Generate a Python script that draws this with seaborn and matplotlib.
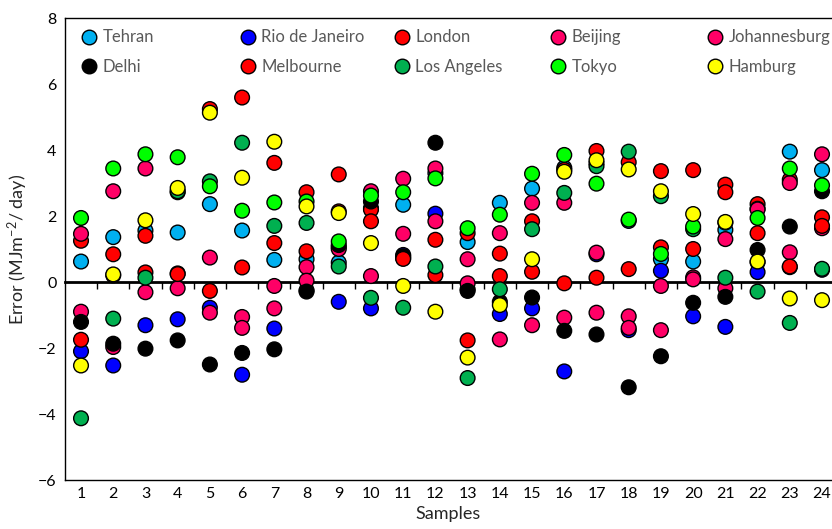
import matplotlib
matplotlib.use("Agg")
import matplotlib.pyplot as plt
from matplotlib.lines import Line2D
import seaborn as sns
import pandas as pd
import numpy as np

samples = list(range(1, 25))

tehran = [0.62, 1.36, 1.56, 1.50, 2.36, 1.56, 0.67, 0.69, 0.59, 2.24, 2.34, 3.30,
          1.21, 2.40, 2.83, 3.46, 3.60, 1.85, 0.69, 0.62, 1.58, 0.60, 3.95, 3.39]
rio = [-2.10, -2.53, -1.31, -1.13, -0.78, -2.81, -1.41, -0.25, -0.60, -0.80, 0.82, 2.07,
       -0.22, -0.97, -0.80, -2.71, 0.84, -1.46, 0.34, -1.04, -1.36, 0.30, 0.45, 0.37]
london = [1.25, 0.84, 1.40, 0.26, 5.24, 5.59, 3.61, 2.72, 3.26, 2.19, 0.72, 1.28,
          1.48, 0.86, 1.84, -0.04, 3.97, 3.63, 3.36, 3.39, 2.95, 2.36, 3.10, 1.96]
beijing = [1.46, 2.75, 3.44, 2.72, 0.74, -1.06, -0.12, 0.45, 1.06, 2.75, 1.46, 3.44,
           0.69, 1.48, 2.40, 2.40, 0.89, -1.04, -0.12, 0.14, 1.30, 2.22, 3.00, 3.87]
johannesburg = [-0.90, -1.97, -0.31, -0.19, -0.93, -1.39, -0.80, 0.04, 1.00, 0.18, 3.13, 1.84,
                -0.04, -1.74, -1.31, -1.08, -0.93, -1.39, -1.46, 0.08, -0.19, 2.20, 0.90, 1.63]
delhi = [-1.21, -1.87, -2.02, -1.77, -2.50, -2.15, -2.04, -0.29, 1.12, 2.44, 0.78, 4.22,
         -0.27, -0.60, -0.47, -1.48, -1.59, -3.19, -2.25, -0.63, -0.45, 0.97, 1.68, 2.75]
melbourne = [-1.75, 0.20, 0.29, 0.24, -0.27, 0.44, 1.18, 0.93, 2.14, 1.84, 0.70, 0.21,
             -1.77, 0.18, 0.31, 3.40, 0.13, 0.39, 1.05, 1.00, 2.72, 1.48, 0.47, 1.70]
los_angeles = [-4.13, -1.11, 0.13, 2.75, 3.05, 4.22, 1.70, 1.79, 0.47, -0.48, -0.78, 0.47,
               -2.91, -0.22, 1.60, 2.70, 3.51, 3.95, 2.60, 1.60, 0.13, -0.29, -1.24, 0.40]
tokyo = [1.94, 3.44, 3.87, 3.78, 2.90, 2.16, 2.41, 2.44, 1.23, 2.62, 2.72, 3.14,
         1.63, 2.04, 3.28, 3.85, 2.98, 1.89, 0.85, 1.68, 1.80, 1.94, 3.44, 2.93]
hamburg = [-2.53, 0.23, 1.87, 2.85, 5.13, 3.16, 4.25, 2.29, 2.09, 1.18, -0.12, -0.90,
           -2.29, -0.70, 0.69, 3.34, 3.69, 3.41, 2.75, 2.06, 1.82, 0.62, -0.50, -0.55]

cities = ["Tehran", "Rio de Janeiro", "London", "Beijing", "Johannesburg",
          "Delhi", "Melbourne", "Los Angeles", "Tokyo", "Hamburg"]
series = [tehran, rio, london, beijing, johannesburg,
          delhi, melbourne, los_angeles, tokyo, hamburg]
colors = ["#00B0F0", "#0000FF", "#FF0000", "#FF0066", "#FF0066",
          "#000000", "#FF0000", "#00B050", "#00FF00", "#FFFF00"]

df = pd.DataFrame({
    "Sample": np.tile(samples, len(cities)),
    "Error": np.concatenate(series),
    "City": np.repeat(cities, len(samples)),
})

sns.set_theme(style="white")
plt.rcParams["font.family"] = ["Lato", "DejaVu Sans"]
plt.rcParams["mathtext.default"] = "regular"

W, H = 832, 529
fig = plt.figure(figsize=(W / 100, H / 100), dpi=100)
ax_l, ax_r, ax_t, ax_b = 65, 832, 18, 480
ax = fig.add_axes([ax_l / W, 1 - ax_b / H, (ax_r - ax_l) / W, (ax_b - ax_t) / H])

palette = dict(zip(cities, colors))
sns.scatterplot(data=df, x="Sample", y="Error", hue="City", hue_order=cities,
                palette=palette, s=112, edgecolor="black", linewidth=1.0,
                legend=False, ax=ax, zorder=3)

ax.set_xlim(0.503, 24.31)
ax.set_ylim(-6, 8)
ax.set_yticks(np.arange(-6, 9, 2))
ax.set_xticks(samples)
ax.set_xticklabels([str(s) for s in samples])
ax.tick_params(axis="both", length=0, labelsize=11.5, colors="black", pad=6)
ax.tick_params(axis="x", pad=5)

for side in ["left", "bottom", "top"]:
    ax.spines[side].set_visible(True)
    ax.spines[side].set_color("black")
    ax.spines[side].set_linewidth(1.0)
ax.spines["right"].set_visible(False)

# axis line at zero with category separators
sec = ax.secondary_xaxis(6 / 14)
sec.set_xticks(np.arange(1.5, 24.5, 1.0))
sec.tick_params(axis="x", direction="out", length=5, width=1, labelbottom=False,
                labeltop=False, bottom=True, top=False, color="black")
sec.spines["bottom"].set_linewidth(2.0)
sec.spines["bottom"].set_color("black")
sec.xaxis.set_ticks_position("bottom")
sec.set_xticklabels([])

ax.set_xlabel("Samples", fontsize=13, labelpad=4)
ax.set_ylabel("Error (MJm$^{-2}$/ day)", fontsize=13, labelpad=6)

# legend: five columns of two entries
handles = {c: Line2D([], [], linestyle="none", marker="o", markersize=10.5,
                     markerfacecolor=palette[c], markeredgecolor="black",
                     markeredgewidth=1.0) for c in cities}
col_groups = [("Tehran", "Delhi"), ("Rio de Janeiro", "Melbourne"),
              ("London", "Los Angeles"), ("Beijing", "Tokyo"),
              ("Johannesburg", "Hamburg")]
marker_px = [89, 248, 402, 558, 715]
fs = 12
handlelen = 1.0
legs = []
for grp, mx in zip(col_groups, marker_px):
    x_left = mx - handlelen * fs * 100 / 72 / 2
    xa = (x_left - ax_l) / (ax_r - ax_l)
    ya = (ax_b - 52) / (ax_b - ax_t)
    leg = ax.legend([handles[g] for g in grp], list(grp), loc="center left",
                    bbox_to_anchor=(xa, ya), frameon=False, fontsize=fs,
                    handlelength=handlelen, handletextpad=0.3, labelspacing=0.8,
                    borderpad=0, borderaxespad=0, labelcolor="#595959")
    legs.append(leg)
for leg in legs[:-1]:
    ax.add_artist(leg)

fig.savefig("out.png", dpi=100)
